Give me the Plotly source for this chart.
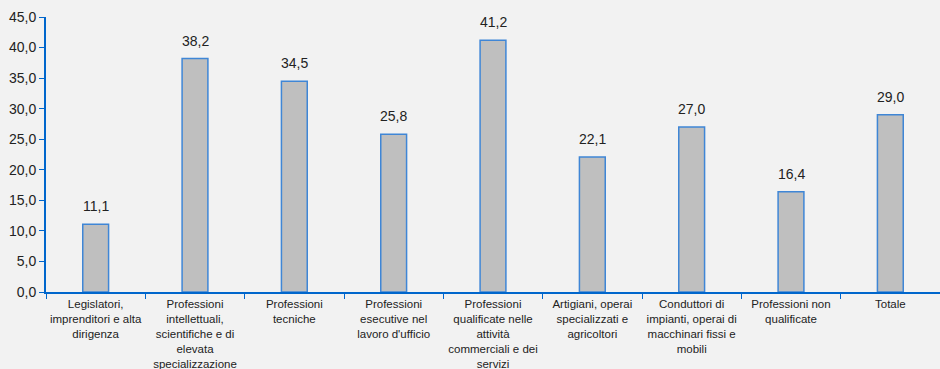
import plotly.graph_objects as go

categories = [
    "Legislatori,<br>imprenditori e alta<br>dirigenza",
    "Professioni<br>intellettuali,<br>scientifiche e di<br>elevata<br>specializzazione",
    "Professioni<br>tecniche",
    "Professioni<br>esecutive nel<br>lavoro d'ufficio",
    "Professioni<br>qualificate nelle<br>attività<br>commerciali e dei<br>servizi",
    "Artigiani, operai<br>specializzati e<br>agricoltori",
    "Conduttori di<br>impianti, operai di<br>macchinari fissi e<br>mobili",
    "Professioni non<br>qualificate",
    "Totale",
]
values = [11.1, 38.2, 34.5, 25.8, 41.2, 22.1, 27.0, 16.4, 29.0]

fig = go.Figure(go.Bar(
    x=categories, y=values, width=0.26,
    marker=dict(color="#bfbfbf", line=dict(color="#3f86d6", width=1.5)),
))

for c, v in zip(categories, values):
    fig.add_annotation(x=c, y=v, text=f"{v:.1f}".replace(".", ","), showarrow=False,
                       yanchor="bottom", yshift=8,
                       font=dict(family="Liberation Sans, Arial", size=14, color="#222222"))

axis_color = "#0066cc"
fig.update_layout(
    width=940, height=369,
    margin=dict(l=46, r=0, t=17, b=77),
    paper_bgcolor="#f2f2f2", plot_bgcolor="#f2f2f2",
    separators=",.",
    showlegend=False,
    font=dict(family="Liberation Sans, Arial", color="#222222"),
    xaxis=dict(
        showline=True, linecolor=axis_color, linewidth=2,
        ticks="outside", tickson="boundaries", ticklen=5, tickcolor=axis_color, tickwidth=1,
        tickfont=dict(size=11.5), showgrid=False, tickangle=0,
    ),
    yaxis=dict(
        range=[0, 45], dtick=5, tickformat=".1f",
        showline=True, linecolor=axis_color, linewidth=2,
        ticks="outside", ticklen=5, tickcolor=axis_color, tickwidth=1,
        tickfont=dict(size=14), showgrid=False, zeroline=False,
    ),
)

fig.write_html("out.html", config={"displayModeBar": False},
               post_script="document.body.style.margin='0';document.body.style.overflow='hidden';")
